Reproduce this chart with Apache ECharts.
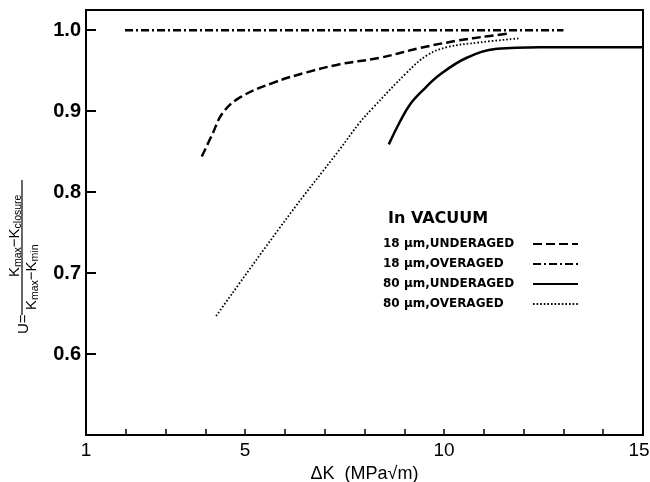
<!DOCTYPE html>
<html>
<head>
<meta charset="utf-8">
<script src="https://cdn.jsdelivr.net/npm/echarts@6/dist/echarts.min.js"></script>
<style>
html,body{margin:0;padding:0;background:#fff;}
#chart{width:650px;height:482px;}
</style>
</head>
<body>
<div id="chart"></div>
<script>
// ---- data ----
var xTickLabels = [1, 5, 10, 15];
var yTickLabels = [0.6, 0.7, 0.8, 0.9, 1.0];
var seriesNames = ['18 \u03bcm,UNDERAGED', '18 \u03bcm,OVERAGED', '80 \u03bcm,UNDERAGED', '80 \u03bcm,OVERAGED'];
var under18 = [[3.91,0.844],[4.17,0.871],[4.44,0.898],[4.87,0.917],[5.70,0.935],[6.55,0.948],[7.38,0.958],[8.39,0.966],[9.39,0.978],[10.32,0.987],[11.15,0.993],[11.65,0.996]];
var over18 = [[1.98,1.0],[5.0,1.0],[9.0,1.0],[13.0,1.0]];
var under80 = [[8.61,0.859],[8.89,0.887],[9.14,0.908],[9.47,0.926],[9.89,0.945],[10.57,0.966],[11.33,0.977],[12.41,0.979],[15.0,0.979]];
var over80 = [[4.27,0.647],[6.08,0.770],[7.38,0.853],[7.88,0.886],[8.21,0.904],[9.07,0.948],[9.57,0.969],[10.07,0.979],[10.90,0.985],[11.90,0.990]];

var FONT = 'Liberation Sans';
var chart = echarts.init(document.getElementById('chart'), null, {renderer:'canvas'});

function mkSeries(name, data, type, width, smooth){
  return {
    name: name, type: 'line', data: data, showSymbol: false, symbol: 'none',
    smooth: smooth, animation: false,
    lineStyle: {color: '#000', width: width, type: type, cap: 'butt'},
    itemStyle: {color: '#000'}
  };
}

var rich = {
  k: {fontSize: 15, lineHeight: 18, fontFamily: FONT, color: '#000'},
  s: {fontSize: 10.5, lineHeight: 10, fontFamily: FONT, color: '#000', verticalAlign: 'bottom'}
};

var option = {
  backgroundColor: '#fff',
  animation: false,
  grid: {left: 86, right: 7, top: 10, bottom: 47, show: true, borderColor: '#000', borderWidth: 2,
         containLabel: false, outerBoundsMode: 'none'},
  title: {
    text: 'In VACUUM', left: 383, top: 206,
    textStyle: {fontFamily: 'DejaVu Sans', fontSize: 16, fontWeight: 'bold', color: '#000'}
  },
  legend: {
    orient: 'vertical', left: 378, top: 233, align: 'right',
    itemWidth: 45, itemHeight: 14, itemGap: 8,
    data: seriesNames,
    itemStyle: {opacity: 0, color: 'transparent', borderWidth: 0},
    formatter: function(n){ return '{a|' + n + '}'; },
    textStyle: {
      rich: {a: {width: 145, align: 'left', fontSize: 12, fontWeight: 'bold', fontFamily: 'DejaVu Sans', color: '#000'}}
    }
  },
  xAxis: {
    type: 'value', min: 1, max: 15, interval: 1,
    axisLine: {show: true, lineStyle: {color: '#000', width: 2}},
    axisTick: {show: true, inside: true, length: 6, lineStyle: {color: '#000', width: 1.5}},
    splitLine: {show: false},
    axisLabel: {
      color: '#000', fontFamily: FONT, fontSize: 19, margin: 6,
      formatter: function(v){
        var r = Math.round(v);
        if (Math.abs(v - r) > 1e-6 || xTickLabels.indexOf(r) < 0) return '';
        return r === xTickLabels[xTickLabels.length - 1] ? '{m|' + r + '}' : String(r);
      },
      rich: {m: {fontFamily: FONT, fontSize: 19, color: '#000', padding: [0, 8, 0, 0]}}
    },
    name: '\u0394K  (MPa\u221Am)', nameLocation: 'middle', nameGap: 25,
    nameTextStyle: {color: '#000', fontFamily: FONT, fontSize: 18}
  },
  yAxis: {
    type: 'value', min: 0.5, max: 1.025, interval: 0.1,
    axisLine: {show: true, lineStyle: {color: '#000', width: 2}},
    axisTick: {show: true, inside: true, length: 10, lineStyle: {color: '#000', width: 2}},
    splitLine: {show: false},
    axisLabel: {
      color: '#000', fontFamily: FONT, fontSize: 20, fontWeight: 'bold', margin: 5,
      formatter: function(v){
        for (var i = 0; i < yTickLabels.length; i++) { if (Math.abs(v - yTickLabels[i]) < 1e-6) return yTickLabels[i].toFixed(1); }
        return '';
      }
    }
  },
  graphic: [{
    type: 'group', x: 22, y: 334, rotation: Math.PI / 2,
    children: [
      {type: 'text', x: 0, y: 2, style: {text: 'U=', fontSize: 15, fontFamily: FONT, fill: '#000', align: 'left', verticalAlign: 'middle'}},
      {type: 'line', shape: {x1: 19, y1: 0, x2: 154, y2: 0}, style: {stroke: '#000', lineWidth: 1.2}},
      {type: 'text', x: 57, y: 2, style: {text: '{k|K}{s|max}{k|\u2212K}{s|closure}', rich: rich, align: 'left', verticalAlign: 'bottom'}},
      {type: 'text', x: 24, y: 1, style: {text: '{k|K}{s|max}{k|\u2212K}{s|min}', rich: rich, align: 'left', verticalAlign: 'top'}}
    ]
  }],
  series: [
    mkSeries(seriesNames[0], under18, [9, 4], 2.5, 0.4),
    mkSeries(seriesNames[1], over18, [8, 3, 2, 3], 2.5, false),
    mkSeries(seriesNames[2], under80, 'solid', 2.5, 0.4),
    mkSeries(seriesNames[3], over80, [1.6, 2], 1.8, 0.4)
  ]
};
chart.setOption(option);
</script>
</body>
</html>
